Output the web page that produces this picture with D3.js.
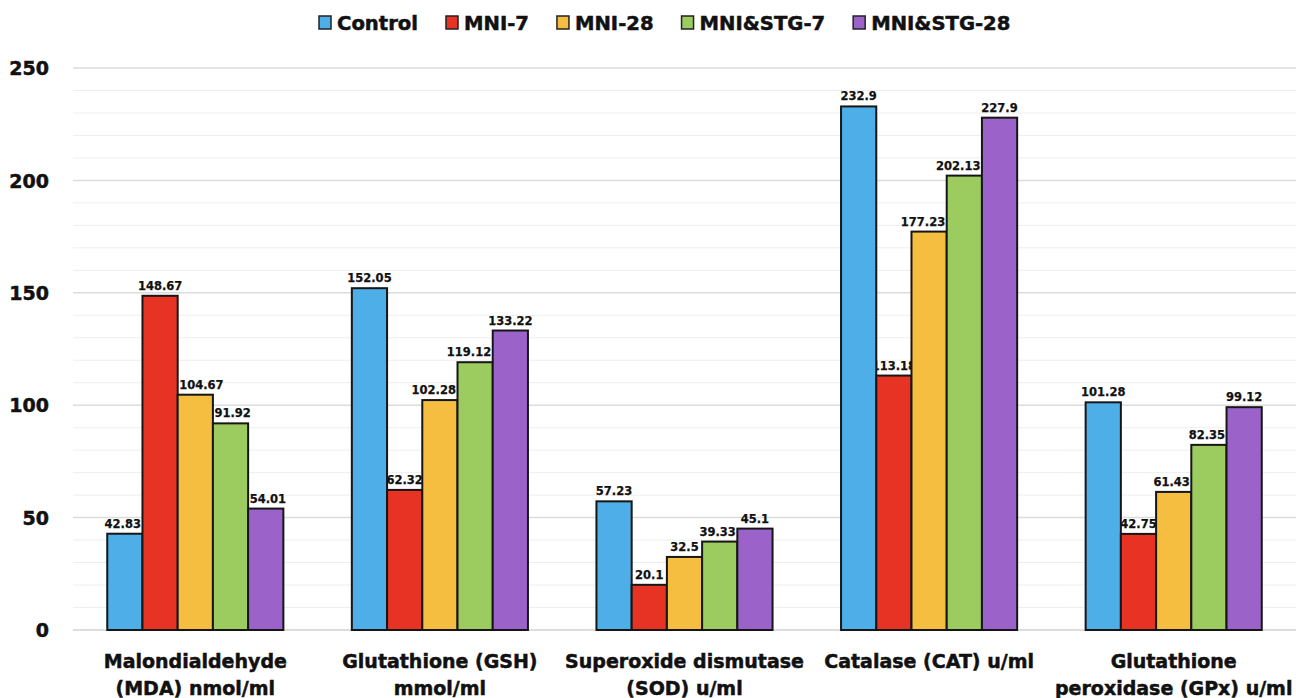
<!DOCTYPE html>
<html>
<head>
<meta charset="utf-8">
<script src="https://cdn.jsdelivr.net/npm/d3@7"></script>
<style>
  html, body { margin: 0; padding: 0; background: #fff; }
  svg { display: block; }
  text { font-family: "DejaVu Sans", sans-serif; font-weight: bold; fill: #111; }
  .heavy { stroke: #111; stroke-width: 0.5px; }
</style>
</head>
<body>
<svg id="chart" width="1296" height="698"></svg>
<script>
// Biomarker categories (two-line axis labels)
const categories = [
  ["Malondialdehyde", "(MDA) nmol/ml"],
  ["Glutathione (GSH)", "mmol/ml"],
  ["Superoxide dismutase", "(SOD) u/ml"],
  ["Catalase (CAT) u/ml", ""],
  ["Glutathione", "peroxidase (GPx) u/ml"]
];
const seriesNames = ["Control", "MNI-7", "MNI-28", "MNI&STG-7", "MNI&STG-28"];
const seriesColors = ["#4DAEE8", "#E63323", "#F5BE41", "#9CCB5F", "#9B63C9"];

// Values per group, one array per series
const control   = [42.83, 152.05, 57.23, 232.9, 101.28];
const mni7      = [148.67, 62.32, 20.1, 113.18, 42.75];
const mni28     = [104.67, 102.28, 32.5, 177.23, 61.43];
const mniStg7   = [91.92, 119.12, 39.33, 202.13, 82.35];
const mniStg28  = [54.01, 133.22, 45.1, 227.9, 99.12];
const seriesValues = [control, mni7, mni28, mniStg7, mniStg28];

const yMajorTicks = [0, 50, 100, 150, 200, 250];
const yMinorTicks = d3.range(0, 251, 10);

const svg = d3.select("#chart");
const plotLeft = 73, plotRight = 1296, plotTop = 68, plotBottom = 630;

const catKeys = categories.map((c, i) => i);
const x = d3.scaleBand().domain(catKeys).range([plotLeft, plotRight])
  .paddingInner(0.28).paddingOuter(0.14);
const xs = d3.scaleBand().domain(d3.range(seriesNames.length))
  .range([0, x.bandwidth()]).padding(0);
const y = d3.scaleLinear().domain([0, 250]).range([plotBottom, plotTop]);

// Gridlines
const grid = svg.append("g");
grid.selectAll("line.minor").data(yMinorTicks.filter(v => v % 50 !== 0)).join("line")
  .attr("class", "minor")
  .attr("x1", plotLeft).attr("x2", plotRight)
  .attr("y1", d => y(d)).attr("y2", d => y(d))
  .attr("stroke", "#eeeeee").attr("stroke-width", 1);
grid.selectAll("line.major").data(yMajorTicks).join("line")
  .attr("class", "major")
  .attr("x1", plotLeft).attr("x2", plotRight)
  .attr("y1", d => y(d)).attr("y2", d => y(d))
  .attr("stroke", d => d === 0 ? "#d2d2d2" : "#dcdcdc").attr("stroke-width", 1.5);

// Y axis labels
const yAxis = d3.axisLeft(y).tickValues(yMajorTicks).tickSize(0).tickPadding(0);
const yg = svg.append("g").attr("transform", "translate(49,0)").call(yAxis);
yg.select(".domain").remove();
yg.selectAll("text")
  .attr("class", "heavy")
  .attr("font-family", "DejaVu Sans").attr("font-weight", "bold")
  .attr("font-size", 19).attr("fill", "#111").attr("dy", "0.35em");

// Flatten data
const flat = [];
seriesValues.forEach((vals, s) => vals.forEach((v, c) => flat.push({ s, c, v })));
const valueAt = (s, c) => (s >= 0 && s < seriesValues.length) ? seriesValues[s][c] : -Infinity;

// Value labels sit behind the bars; nudged away from a taller neighbour
const bw = xs.bandwidth();
svg.append("g").selectAll("text").data(flat).join("text")
  .attr("y", d => y(d.v) - 6)
  .attr("text-anchor", "middle")
  .attr("font-size", 11.5)
  .attr("stroke", "#111").attr("stroke-width", 0.25)
  .text(d => String(d.v))
  .each(function(d) {
    const w = this.getComputedTextLength();
    const cx = x(d.c) + xs(d.s) + bw / 2;
    const over = Math.max(0, (w - bw) / 2 + 1.5);
    const leftTaller = valueAt(d.s - 1, d.c) > d.v;
    const rightTaller = valueAt(d.s + 1, d.c) > d.v;
    let shift = 0;
    if (rightTaller && !leftTaller) shift = -over;
    if (leftTaller && !rightTaller) shift = over;
    d3.select(this).attr("x", cx + shift);
  });

// Bars
svg.append("g").selectAll("rect").data(flat).join("rect")
  .attr("x", d => x(d.c) + xs(d.s))
  .attr("y", d => y(d.v))
  .attr("width", bw)
  .attr("height", d => y(0) - y(d.v))
  .attr("fill", d => seriesColors[d.s])
  .attr("stroke", "#161616").attr("stroke-width", 2);

// Category labels
const cg = svg.append("g").selectAll("text").data(categories).join("text")
  .attr("class", "heavy")
  .attr("text-anchor", "middle")
  .attr("font-size", 19);
cg.each(function(d, i) {
  const t = d3.select(this);
  const cx = x(i) + x.bandwidth() / 2;
  d.forEach((line, k) => {
    if (line) t.append("tspan").attr("x", cx).attr("y", 668 + k * 27).text(line);
  });
});

// Legend
const legend = svg.append("g");
let lx = 319;
seriesNames.forEach((name, i) => {
  legend.append("rect")
    .attr("x", lx).attr("y", 16).attr("width", 12).attr("height", 13)
    .attr("fill", seriesColors[i]).attr("stroke", "#222").attr("stroke-width", 1.5);
  const t = legend.append("text")
    .attr("class", "heavy")
    .attr("x", lx + 18).attr("y", 29.5)
    .attr("font-size", 19.6).text(name);
  lx += 18 + t.node().getComputedTextLength() + 28;
});
</script>
</body>
</html>
